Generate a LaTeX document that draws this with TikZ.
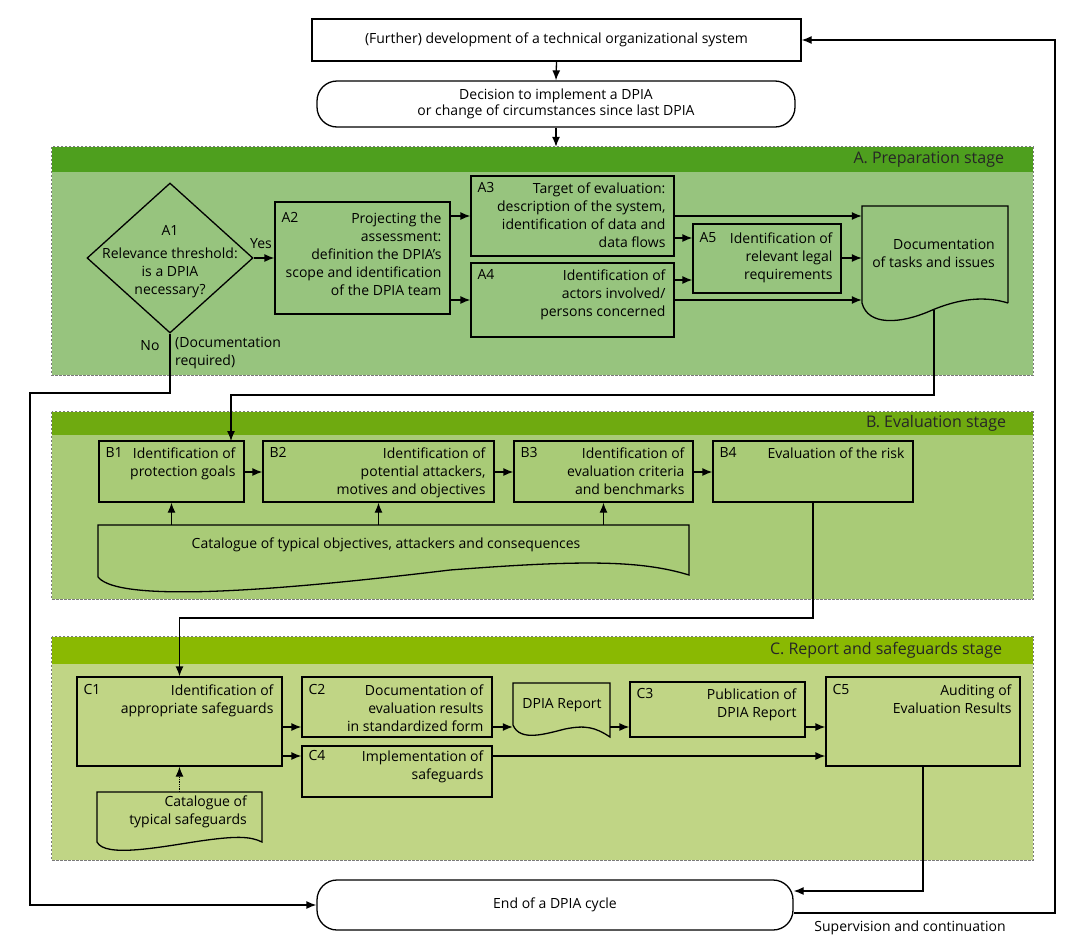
\documentclass[tikz,border=0pt]{standalone}
\usepackage{fontspec}
\setmainfont{Open Sans}
\usetikzlibrary{arrows.meta,fit,shapes.geometric}
\definecolor{hdA}{HTML}{4E9F1E}
\definecolor{bdA}{HTML}{97C47E}
\definecolor{hdB}{HTML}{6FAA10}
\definecolor{bdB}{HTML}{A9CB77}
\definecolor{hdC}{HTML}{8AB902}
\definecolor{bdC}{HTML}{C0D585}
\definecolor{frm}{HTML}{7A7A7A}
\newcommand\myfs{\fontsize{14}{18}\selectfont}
\newcommand\hdfs{\fontsize{16}{18}\selectfont}
% name, corner1, corner2, id, text, top shift
\newcommand\mkbox[6]{%
  \node[box, fit={#2#3}] (#1) {};
  \node[anchor=north west] (#1-id) at ([shift={(7,#6)}]#1.north west) {#4};
  \node[anchor=north east, align=right] (#1-tx) at ([shift={(-9,#6)}]#1.north east) {#5};
}
\begin{document}
\begin{tikzpicture}[x=1pt,y=-1pt,
  every node/.style={inner sep=0pt, font=\myfs},
  box/.style={draw, line width=1.3pt, inner sep=0pt},
  docshape/.style={draw, line width=1.3pt},
  arr/.style={-{Latex[length=10pt,width=8pt]}, line width=1.3pt},
  frame/.style={draw=frm, line width=0.9pt, dash pattern=on 2.5pt off 1.5pt},
  term/.style={draw, line width=1.3pt, fill=white, rounded corners=20pt, inner sep=0pt},
  hdr/.style={font=\hdfs, text=black!85, anchor=east}]
\useasboundingbox (0,0) rectangle (1076,948);

% ---------- top ----------
\node[box, fill=white, fit={(312,19)(801,61)}] (Top) {};
\node (Toptx) at (Top.center) {(Further) development of a technical organizational system};
\node[term, fit={(317,81)(795,127)}] (Dec) {};
\node[align=center, font=\fontsize{14}{15.5}\selectfont] (Dectx) at (Dec.center) {Decision to implement a DPIA\\or change of circumstances since last DPIA};

% ---------- stage frames ----------
\node[fill=bdA, fit={(52,147)(1033,375)}] (SA) {};
\node[fill=hdA, fit={(52,147)(1033,172)}] (SAh) {};
\node[hdr] (SAt) at ([xshift=-29pt]SAh.east) {A. Preparation stage};
\path[frame] (SA.north west) rectangle (SA.south east);

\node[fill=bdB, fit={(52,412)(1033,599)}] (SB) {};
\node[fill=hdB, fit={(52,412)(1033,435)}] (SBh) {};
\node[hdr] (SBt) at ([xshift=-27pt]SBh.east) {B. Evaluation stage};
\path[frame] (SB.north west) rectangle (SB.south east);

\node[fill=bdC, fit={(52,637)(1033,860)}] (SC) {};
\node[fill=hdC, fit={(52,637)(1033,664)}] (SCh) {};
\node[hdr] (SCt) at ([xshift=-31pt]SCh.east) {C. Report and safeguards stage};
\path[frame] (SC.north west) rectangle (SC.south east);

% ---------- stage A ----------
\node[draw, diamond, line width=1.3pt, minimum width=166pt, minimum height=150pt] (A1) at (170,258) {};
\node[align=center] (A1tx) at (170,262) {A1\\[5pt]Relevance threshold:\\is a DPIA\\necessary?};
\mkbox{A2}{(275,202)}{(450,314)}{A2}{Projecting the\\assessment:\\definition the DPIA’s\\scope and identification\\of the DPIA team}{11}
\mkbox{A3}{(471,176)}{(674,256)}{A3}{Target of evaluation:\\description of the system,\\identification of data and\\data flows}{7}
\mkbox{A4}{(471,263)}{(674,337)}{A4}{Identification of\\actors involved/\\persons concerned}{7}
\mkbox{A5}{(693,224)}{(841,293)}{A5}{Identification of\\relevant legal\\requirements}{9}
\node[fit={(862,206)(1008,303)}] (docA) {};
\draw[docshape] (1008,303) -- (1008,206) -- (862,206) -- (862,303)
  .. controls (868,326) and (900,324) .. (930,311)
  .. controls (960,298) and (985,296) .. (1008,303);
\node[anchor=north east, align=right] (docAtx) at (995,239) {Documentation\\of tasks and issues};
\node (yes) at (261,244) {Yes};
\node (no) at (150,346) {No};
\node[anchor=north west, align=left] (docreq) at (175,337) {(Documentation\\required)};

\coordinate (ya216) at (0,216);
\coordinate (ya238) at (0,238);
\coordinate (ya258) at (0,258);
\coordinate (ya280) at (0,280);
\coordinate (ya300) at (0,300);
\draw[arr] (A1.east) -- (A2.west |- A1.east);
\draw[arr] (A2.east |- ya216) -- (A3.west |- ya216);
\draw[arr] (A2.east |- ya300) -- (A4.west |- ya300);
\draw[arr] (A3.east |- ya216) -- (docA.west |- ya216);
\draw[arr] (A3.east |- ya238) -- (A5.west |- ya238);
\draw[arr] (A4.east |- ya280) -- (A5.west |- ya280);
\draw[arr] (A4.east |- ya300) -- (docA.west |- ya300);
\draw[arr] (A5.east |- ya258) -- (docA.west |- ya258);

% ---------- stage B ----------
\mkbox{B1}{(99,441)}{(244,502)}{B1}{Identification of\\protection goals}{7}
\mkbox{B2}{(263,441)}{(494,502)}{B2}{Identification of\\potential attackers,\\motives and objectives}{7}
\mkbox{B3}{(514,441)}{(693,502)}{B3}{Identification of\\evaluation criteria\\and benchmarks}{7}
\mkbox{B4}{(713,441)}{(913,502)}{B4}{Evaluation of the risk}{7}
\node[fit={(98,525)(689,577)}] (catB) {};
\draw[docshape] (98,577) -- (98,525) -- (689,525) -- (689,575)
  .. controls (640,560) and (580,560) .. (450,570)
  .. controls (300,588) and (120,605) .. (98,577);
\node (catBtx) at (386,545) {Catalogue of typical objectives, attackers and consequences};
\coordinate (yb472) at (0,472);
\draw[arr] (B1.east |- yb472) -- (B2.west |- yb472);
\draw[arr] (B2.east |- yb472) -- (B3.west |- yb472);
\draw[arr] (B3.east |- yb472) -- (B4.west |- yb472);
\draw[arr] (catB.north -| B1.south) -- (B1.south);
\draw[arr] (catB.north -| B2.south) -- (B2.south);
\draw[arr] (catB.north -| B3.south) -- (B3.south);

% ---------- stage C ----------
\mkbox{C1}{(77,677)}{(282,766)}{C1}{Identification of\\appropriate safeguards}{8}
\mkbox{C2}{(302,677)}{(492,737)}{C2}{Documentation of\\evaluation results\\in standardized form}{8}
\mkbox{C4}{(302,746)}{(492,797)}{C4}{Implementation of\\safeguards}{5}
\mkbox{C3}{(630,682)}{(805,737)}{C3}{Publication of\\DPIA Report}{7}
\mkbox{C5}{(826,677)}{(1020,766)}{C5}{Auditing of\\Evaluation Results}{8}
\node[fit={(513,683)(610,725)}] (rep) {};
\draw[docshape] (513,725) -- (513,683) -- (610,683) -- (610,737)
  .. controls (595,727) and (585,725) .. (565,729)
  .. controls (545,734) and (520,742) .. (513,725);
\node (reptx) at (562,705) {DPIA Report};
\node[fit={(97,792)(262,842)}] (catS) {};
\draw[docshape] (97,842) -- (97,792) -- (262,792) -- (262,842)
  .. controls (250,836) and (235,836) .. (200,841)
  .. controls (160,847) and (105,858) .. (97,842);
\node[anchor=north east, align=right] (catStx) at (247,796) {Catalogue of\\typical safeguards};

\coordinate (yc727) at (0,727);
\coordinate (yc756) at (0,756);
\draw[arr] (C1.east |- yc727) -- (C2.west |- yc727);
\draw[arr] (C1.east |- yc756) -- (C4.west |- yc756);
\draw[arr] (C2.east |- yc727) -- (rep.west |- yc727);
\draw[arr] (rep.east |- yc727) -- (C3.west |- yc727);
\draw[arr] (C3.east |- yc727) -- (C5.west |- yc727);
\draw[arr] (C4.east |- yc756) -- (C5.west |- yc756);
\draw[arr, densely dotted] (catS.north) -- (C1.south);

% ---------- end ----------
\node[term, fit={(317,880)(793,930)}] (End) {};
\node (Endtx) at (End.center) {End of a DPIA cycle};
\node (sup) at (910,928) {Supervision and continuation};

% ---------- connectors ----------
\draw[arr] (Top.south) -- (Dec.north);
\draw[arr] (Dec.south) -- (Dec.south |- SA.north);
\coordinate (noturn) at (30,393);
\draw[arr] (A1.south) |- (noturn) |- (End.west);
\coordinate (abstart) at (934,310);
\coordinate (abturn) at (934,395);
\coordinate (B1in) at (231,441);
\draw[arr] (abstart) -- (abturn) -| (B1in);
\coordinate (bcturn) at (179.5,618);
\draw[arr] (B4.south) |- (bcturn) -- (C1.north);
\coordinate (ceturn) at (923,891);
\draw[arr] (C5.south) -- (ceturn) -- (End.east |- ceturn);
\coordinate (retc) at (1055,40);
\draw[arr] ([yshift=-8pt]End.east) -| (retc) -- (Top.east);
\end{tikzpicture}
\end{document}
